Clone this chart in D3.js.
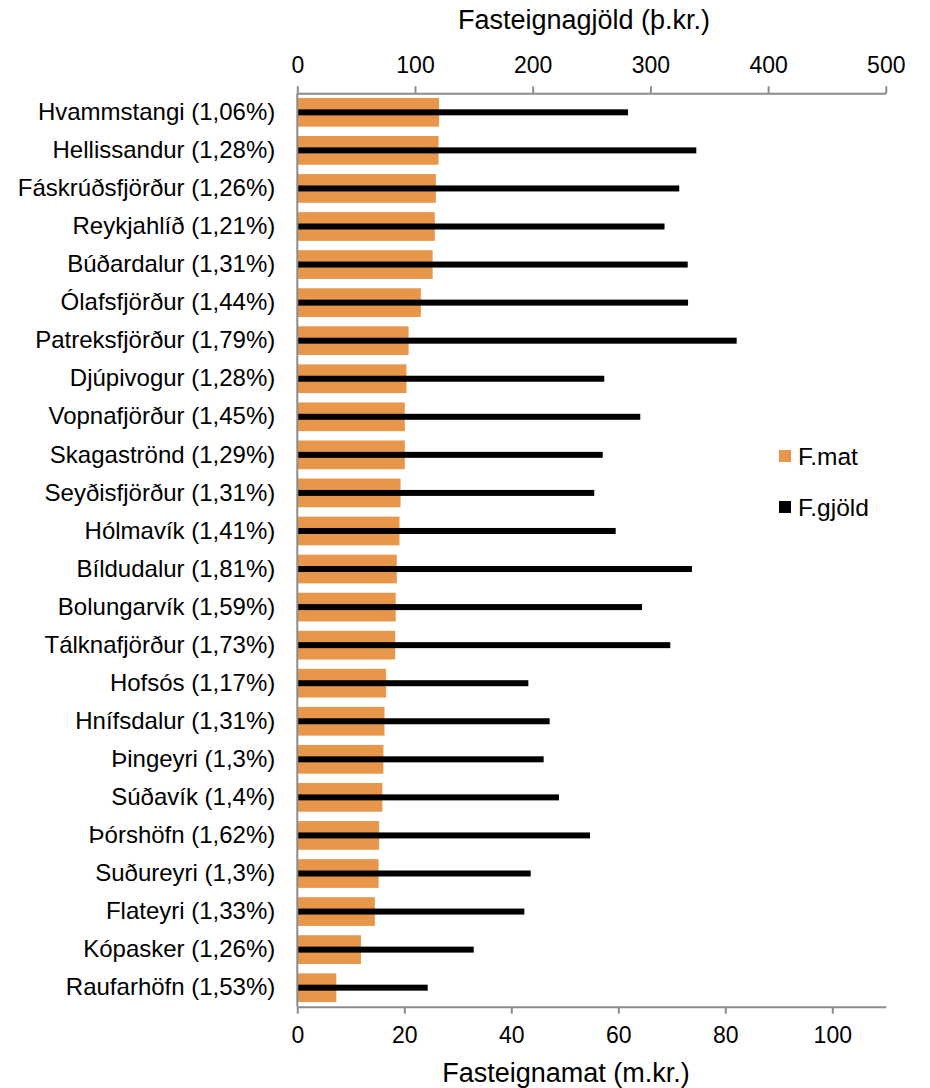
<!DOCTYPE html>
<html>
<head>
<meta charset="utf-8">
<script src="https://cdn.jsdelivr.net/npm/d3@7"></script>
<style>
  body { margin: 0; background: #fff; }
  svg text { font-family: "Liberation Sans", Arial, sans-serif; fill: #000; }
  .axis path, .axis line { stroke: #8c8c8c; stroke-width: 2; }
</style>
</head>
<body>
<svg id="svg" width="930" height="1088"></svg>
<script>
// towns with the tax rate in brackets, top to bottom
var towns = ["Hvammstangi (1,06%)", "Hellissandur (1,28%)", "Fáskrúðsfjörður (1,26%)", "Reykjahlíð (1,21%)",
  "Búðardalur (1,31%)", "Ólafsfjörður (1,44%)", "Patreksfjörður (1,79%)", "Djúpivogur (1,28%)",
  "Vopnafjörður (1,45%)", "Skagaströnd (1,29%)", "Seyðisfjörður (1,31%)", "Hólmavík (1,41%)",
  "Bíldudalur (1,81%)", "Bolungarvík (1,59%)", "Tálknafjörður (1,73%)", "Hofsós (1,17%)",
  "Hnífsdalur (1,31%)", "Þingeyri (1,3%)", "Súðavík (1,4%)", "Þórshöfn (1,62%)",
  "Suðureyri (1,3%)", "Flateyri (1,33%)", "Kópasker (1,26%)", "Raufarhöfn (1,53%)"];

// F.mat in m.kr. (bottom axis)
var fmat = [26.5, 26.4, 25.9, 25.7, 25.3, 23.1, 20.8, 20.4, 20.1, 20.1, 19.3, 19.1,
  18.6, 18.4, 18.3, 16.6, 16.3, 16.1, 15.9, 15.3, 15.2, 14.5, 11.9, 7.3];

// F.gjöld in þ.kr. (top axis)
var fgjold = [281, 339, 324.5, 312, 331.7, 332, 373.3, 260.8, 291.4, 259.5, 252.3, 270.5,
  335.3, 292.9, 316.9, 196.3, 214.4, 209.3, 222.3, 248.7, 198.3, 192.9, 149.9, 110.8];

var bottomTicks = [0, 20, 40, 60, 80, 100];
var topTicks = [0, 100, 200, 300, 400, 500];
var seriesNames = ["F.mat", "F.gjöld"];
var colors = ["#e8974a", "#000000"];

// plot box (window.top is taken, so no plain "top")
var plotL = 297.3, plotR = 885.8, plotT = 93.3, plotB = 1006.7;

var svg = d3.select("svg");

var xMat = d3.scaleLinear().domain([0, 110]).range([plotL, plotR]);
var xGjold = d3.scaleLinear().domain([0, 500]).range([plotL, plotR]);
var y = d3.scaleBand().domain(towns).range([plotT, plotB]).paddingInner(0.245).paddingOuter(0.1225);

// orange bars
svg.selectAll("rect.mat")
  .data(towns)
  .enter().append("rect")
  .attr("class", "mat")
  .attr("x", plotL)
  .attr("y", function(d) { return y(d); })
  .attr("width", function(d, i) { return xMat(fmat[i]) - plotL; })
  .attr("height", y.bandwidth())
  .attr("fill", colors[0]);

// black thin bars on top
var thin = 6;
svg.selectAll("rect.gjold")
  .data(towns)
  .enter().append("rect")
  .attr("class", "gjold")
  .attr("x", plotL)
  .attr("y", function(d) { return y(d) + y.bandwidth() / 2 - thin / 2; })
  .attr("width", function(d, i) { return xGjold(fgjold[i]) - plotL; })
  .attr("height", thin)
  .attr("fill", colors[1]);

// axes
var gTop = svg.append("g").attr("class", "axis")
  .attr("transform", "translate(0," + plotT + ")")
  .call(d3.axisTop(xGjold).tickValues(topTicks).tickSize(7).tickSizeOuter(0).tickPadding(13));
gTop.selectAll("text").style("font-size", "23px");

var gBot = svg.append("g").attr("class", "axis")
  .attr("transform", "translate(0," + plotB + ")")
  .call(d3.axisBottom(xMat).tickValues(bottomTicks).tickSize(7).tickSizeOuter(0).tickPadding(13));
gBot.selectAll("text").style("font-size", "23px");

var gLeft = svg.append("g").attr("class", "axis")
  .attr("transform", "translate(" + plotL + ",0)")
  .call(d3.axisLeft(y).tickSize(0).tickPadding(22));
gLeft.select(".domain").attr("d", "M0," + plotT + "V" + plotB);
gLeft.selectAll("text").style("font-size", "24px");

// axis titles
svg.append("text")
  .attr("x", 584).attr("y", 29)
  .attr("text-anchor", "middle").style("font-size", "27px")
  .text("Fasteignagjöld (þ.kr.)");

svg.append("text")
  .attr("x", 566).attr("y", 1082)
  .attr("text-anchor", "middle").style("font-size", "27px")
  .text("Fasteignamat (m.kr.)");

// legend
var legend = svg.selectAll("g.legend")
  .data(seriesNames)
  .enter().append("g")
  .attr("class", "legend")
  .attr("transform", function(d, i) { return "translate(779," + (450 + i * 51) + ")"; });

legend.append("rect")
  .attr("width", 12).attr("height", 12)
  .attr("fill", function(d, i) { return colors[i]; });

legend.append("text")
  .attr("x", 19).attr("y", 6).attr("dy", "0.35em")
  .style("font-size", "24.5px")
  .text(function(d) { return d; });
</script>
</body>
</html>
